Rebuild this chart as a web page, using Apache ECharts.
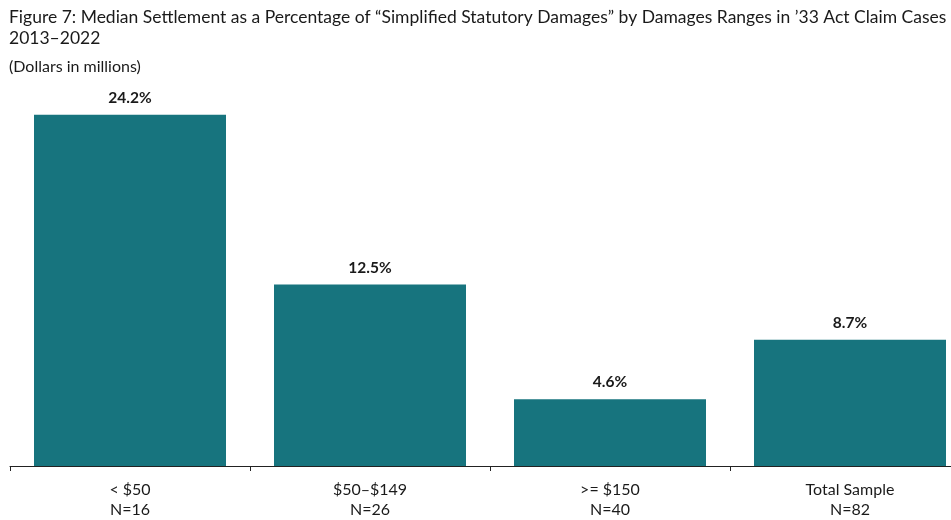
<!DOCTYPE html>
<html lang="en">
<head>
    <meta charset="UTF-8">
    <title>Figure 7</title>
    <style>
        body { margin: 0; background: #fff; overflow: hidden; }
        .div { width: 970px; height: 520px; }
    </style>
</head>
<body>
    <div class="div"></div>
    <script src="https://cdn.jsdelivr.net/npm/echarts@6/dist/echarts.min.js"></script>
    <script>
        const ranges = ['< $50', '$50\u2013$149', '>= $150', 'Total Sample']
        const caseCounts = ['N=16', 'N=26', 'N=40', 'N=82']
        const medianPct = [24.2, 12.5, 4.6, 8.7]

        const textColor = '#1a1a1a'
        const font = 'Lato, "Open Sans", sans-serif'

        // the original picture is cropped on the right, so the canvas is a bit wider than the window
        const echart = echarts.init(document.querySelector('.div'))
        echart.setOption({
            animation: false,
            title: {
                left: 4,
                top: 2,
                text: 'Figure 7: Median Settlement as a Percentage of \u201cSimplified Statutory Damages\u201d by Damages Ranges in \u201933 Act Claim Cases\n2013\u20132022',
                subtext: '(Dollars in millions)',
                itemGap: 10,
                textStyle: { fontFamily: font, fontSize: 17.5, fontWeight: 'normal', color: textColor, lineHeight: 21 },
                subtextStyle: { fontFamily: font, fontSize: 16, color: textColor }
            },
            grid: { left: 10, right: 0, top: 30.5, bottom: 53, containLabel: false },
            xAxis: {
                type: 'category',
                data: ranges.map((r, i) => r + '\n' + caseCounts[i]),
                axisLine: { lineStyle: { color: '#222', width: 1 } },
                axisTick: { show: true, length: 5, lineStyle: { color: '#222' } },
                axisLabel: { fontFamily: font, fontSize: 16, color: textColor, lineHeight: 20, margin: 14 }
            },
            yAxis: {
                type: 'value',
                min: 0,
                max: 30,
                show: false,
                splitLine: { show: false }
            },
            series: [{
                type: 'bar',
                data: medianPct,
                barCategoryGap: '20%',
                itemStyle: { color: '#17747e' },
                label: {
                    show: true,
                    position: 'top',
                    distance: 9,
                    formatter: p => p.value.toFixed(1) + '%',
                    fontFamily: font,
                    fontSize: 15.5,
                    fontWeight: 'bold',
                    color: textColor
                }
            }]
        })
    </script>
</body>
</html>
